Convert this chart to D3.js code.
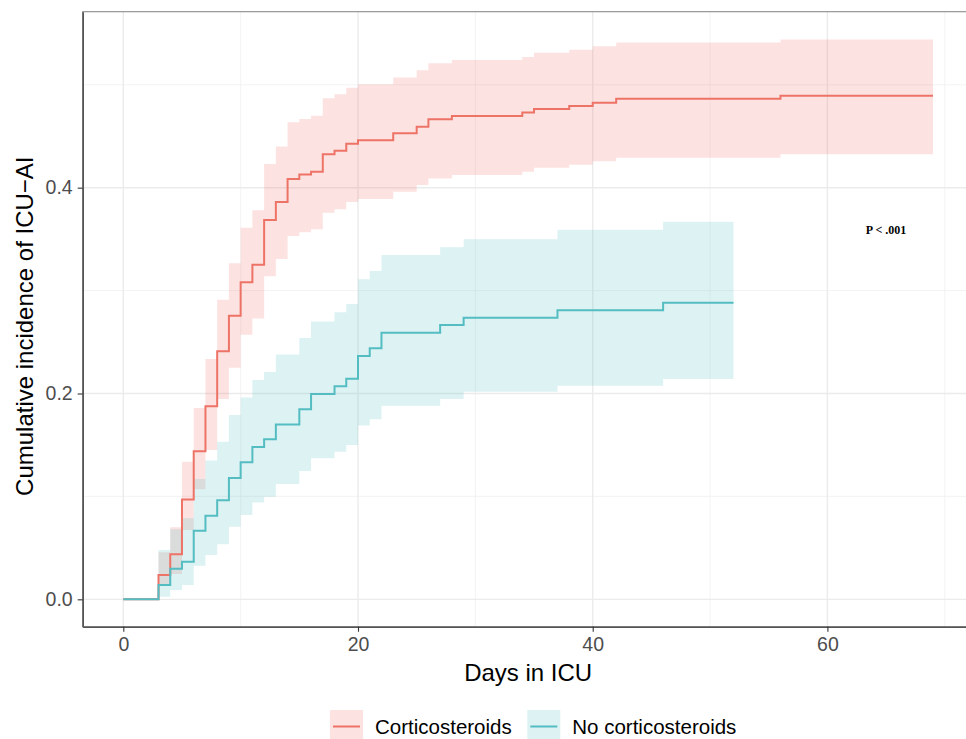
<!DOCTYPE html>
<html>
<head>
<meta charset="utf-8">
<script src="https://cdn.jsdelivr.net/npm/d3@7"></script>
<style>
  body { margin: 0; background: #fff; }
  text { font-family: Helvetica, Arial, "Liberation Sans", sans-serif; }
</style>
</head>
<body>
<div id="divgraph"></div>
<script>
//Cumulative incidence, corticosteroids group
var corticoDays  = [0, 3, 4, 5, 6, 7, 8, 9, 10, 11, 12, 13, 14, 15, 16, 17, 18, 19, 20, 23, 25, 26, 28, 34, 35, 38, 40, 42, 56, 69]
var corticoEst   = [0, 0.0236, 0.0437, 0.097, 0.144, 0.1875, 0.241, 0.2756, 0.308, 0.325, 0.3686, 0.386, 0.4085, 0.4127, 0.4156, 0.4325, 0.436, 0.4428, 0.446, 0.4529, 0.4593, 0.4665, 0.4697, 0.473, 0.4765, 0.4794, 0.4826, 0.4865, 0.4894, 0.4894]
var corticoLower = [0, 0.015, 0.0246, 0.0673, 0.107, 0.145, 0.1946, 0.225, 0.257, 0.273, 0.314, 0.3307, 0.353, 0.3566, 0.3596, 0.3757, 0.379, 0.386, 0.389, 0.396, 0.4026, 0.409, 0.4123, 0.4156, 0.4194, 0.4224, 0.4256, 0.429, 0.4325, 0.4325]
var corticoUpper = [0, 0.0457, 0.070, 0.1337, 0.186, 0.2335, 0.291, 0.3265, 0.361, 0.378, 0.423, 0.44, 0.4636, 0.4668, 0.470, 0.487, 0.4908, 0.4972, 0.5005, 0.507, 0.514, 0.521, 0.524, 0.527, 0.531, 0.534, 0.5374, 0.541, 0.544, 0.544]

//Cumulative incidence, no corticosteroids group
var noCorticoDays  = [0, 3, 4, 5, 6, 7, 8, 9, 10, 11, 12, 13, 15, 16, 18, 19, 20, 21, 22, 27, 29, 37, 46, 52]
var noCorticoEst   = [0, 0.0139, 0.0298, 0.0366, 0.0667, 0.0813, 0.0962, 0.118, 0.1331, 0.148, 0.1555, 0.170, 0.1846, 0.1995, 0.207, 0.2144, 0.2364, 0.244, 0.259, 0.2666, 0.2737, 0.2808, 0.2883, 0.2883]
var noCorticoLower = [0, 0.0025, 0.009, 0.0139, 0.0327, 0.043, 0.0534, 0.0706, 0.082, 0.094, 0.0997, 0.112, 0.1247, 0.137, 0.1435, 0.150, 0.169, 0.175, 0.188, 0.1946, 0.2018, 0.2076, 0.214, 0.214]
var noCorticoUpper = [0, 0.048, 0.068, 0.0787, 0.117, 0.135, 0.153, 0.179, 0.196, 0.213, 0.221, 0.238, 0.254, 0.270, 0.279, 0.287, 0.311, 0.319, 0.3346, 0.342, 0.350, 0.359, 0.367, 0.367]

//Labels
var groupNames = ["Corticosteroids", "No corticosteroids"]
var groupColors = ["#EE7367", "#53BDC2"]
var xTicks = [0, 20, 40, 60]
var xMinorTicks = [10, 30, 50, 70]
var yTicks = [0, 0.2, 0.4]
var yMinorTicks = [0.1, 0.3, 0.5]
var pValueText = "P < .001"
var pValuePos = [65, 0.355]

//SVG size and panel position
var width = 966
var height = 739
var margin = { top: 11.7, left: 82.7, right: -7.5, bottom: 112.3 }

var svg = d3.select("#divgraph")
            .append("svg")
            .attr("width", width)
            .attr("height", height)

var panelW = width - margin.left - margin.right
var panelH = height - margin.top - margin.bottom

var x = d3.scaleLinear()
          .domain([-3.46, 72.45])
          .range([margin.left, margin.left + panelW])

var y = d3.scaleLinear()
          .domain([-0.0266, 0.571])
          .range([margin.top + panelH, margin.top])

//Grid lines (minor then major)
var grid = svg.append("g")

grid.selectAll(".xminor")
    .data(xMinorTicks)
    .enter().append("line")
    .attr("x1", d => x(d)).attr("x2", d => x(d))
    .attr("y1", margin.top).attr("y2", margin.top + panelH)
    .attr("stroke", "#F0F0F0").attr("stroke-width", 0.8)

grid.selectAll(".yminor")
    .data(yMinorTicks)
    .enter().append("line")
    .attr("x1", margin.left).attr("x2", margin.left + panelW)
    .attr("y1", d => y(d)).attr("y2", d => y(d))
    .attr("stroke", "#F0F0F0").attr("stroke-width", 0.8)

grid.selectAll(".xmajor")
    .data(xTicks)
    .enter().append("line")
    .attr("x1", d => x(d)).attr("x2", d => x(d))
    .attr("y1", margin.top).attr("y2", margin.top + panelH)
    .attr("stroke", "#EBEBEB").attr("stroke-width", 1.4)

grid.selectAll(".ymajor")
    .data(yTicks)
    .enter().append("line")
    .attr("x1", margin.left).attr("x2", margin.left + panelW)
    .attr("y1", d => y(d)).attr("y2", d => y(d))
    .attr("stroke", "#EBEBEB").attr("stroke-width", 1.4)

//Build the series for each group
var groups = [
  { name: groupNames[0], color: groupColors[0],
    rows: corticoDays.map((d, i) => ({ t: d, est: corticoEst[i], lo: corticoLower[i], hi: corticoUpper[i] })) },
  { name: groupNames[1], color: groupColors[1],
    rows: noCorticoDays.map((d, i) => ({ t: d, est: noCorticoEst[i], lo: noCorticoLower[i], hi: noCorticoUpper[i] })) }
]

var band = d3.area()
             .curve(d3.curveStepAfter)
             .x(d => x(d.t))
             .y0(d => y(d.lo))
             .y1(d => y(d.hi))

var line = d3.line()
             .curve(d3.curveStepAfter)
             .x(d => x(d.t))
             .y(d => y(d.est))

//Confidence bands first, then the lines on top
svg.selectAll(".band")
   .data(groups)
   .enter().append("path")
   .attr("d", d => band(d.rows))
   .attr("fill", d => d.color)
   .attr("fill-opacity", 0.2)

svg.selectAll(".curve")
   .data(groups)
   .enter().append("path")
   .attr("d", d => line(d.rows))
   .attr("fill", "none")
   .attr("stroke", d => d.color)
   .attr("stroke-width", 2)

//P value
svg.append("text")
   .text(pValueText)
   .attr("x", x(pValuePos[0]))
   .attr("y", y(pValuePos[1]))
   .attr("text-anchor", "middle")
   .style("font-family", "'Liberation Serif', 'Times New Roman', serif")
   .style("font-weight", "bold")
   .style("font-size", "12px")

//Panel border
svg.append("rect")
   .attr("x", margin.left).attr("y", margin.top)
   .attr("width", panelW).attr("height", panelH)
   .attr("fill", "none")
   .attr("stroke", "#8C8C8C").attr("stroke-width", 1.1)

//Axes
var xAxis = d3.axisBottom(x).tickValues(xTicks).tickSize(5).tickSizeOuter(0).tickPadding(5).tickFormat(d3.format("d"))
var yAxis = d3.axisLeft(y).tickValues(yTicks).tickSize(5).tickSizeOuter(0).tickPadding(5).tickFormat(d3.format(".1f"))

var gx = svg.append("g")
            .attr("transform", "translate(0," + (margin.top + panelH) + ")")
            .call(xAxis)
var gy = svg.append("g")
            .attr("transform", "translate(" + margin.left + ",0)")
            .call(yAxis)

;[gx, gy].forEach(function (g) {
  g.select(".domain").attr("stroke", "#555").attr("stroke-width", 1.6)
  g.selectAll(".tick line").attr("stroke", "#333").attr("stroke-width", 1.1)
  g.selectAll(".tick text")
   .attr("fill", "#4D4D4D")
   .style("font-size", "19.5px")
   .style("font-family", "Helvetica, Arial, 'Liberation Sans', sans-serif")
})

//Axis titles
svg.append("text")
   .text("Days in ICU")
   .attr("x", x(34.5))
   .attr("y", 681)
   .attr("text-anchor", "middle")
   .style("font-size", "24px")

svg.append("text")
   .text("Cumulative incidence of ICU\u2212AI")
   .attr("transform", "translate(33," + (margin.top + panelH / 2 + 7) + ") rotate(-90)")
   .attr("text-anchor", "middle")
   .style("font-size", "24px")

//Legend
var legendX = [330, 527.3]
var legend = svg.selectAll(".legend")
                .data(groups)
                .enter().append("g")
                .attr("transform", (d, i) => "translate(" + legendX[i] + ",710)")

legend.append("rect")
      .attr("width", 33).attr("height", 33)
      .attr("fill", d => d.color)
      .attr("fill-opacity", 0.2)

legend.append("line")
      .attr("x1", 3).attr("x2", 30)
      .attr("y1", 16.5).attr("y2", 16.5)
      .attr("stroke", d => d.color)
      .attr("stroke-width", 2)

legend.append("text")
      .text(d => d.name)
      .attr("x", 45)
      .attr("y", 23.5)
      .style("font-size", "20.5px")
</script>
</body>
</html>
